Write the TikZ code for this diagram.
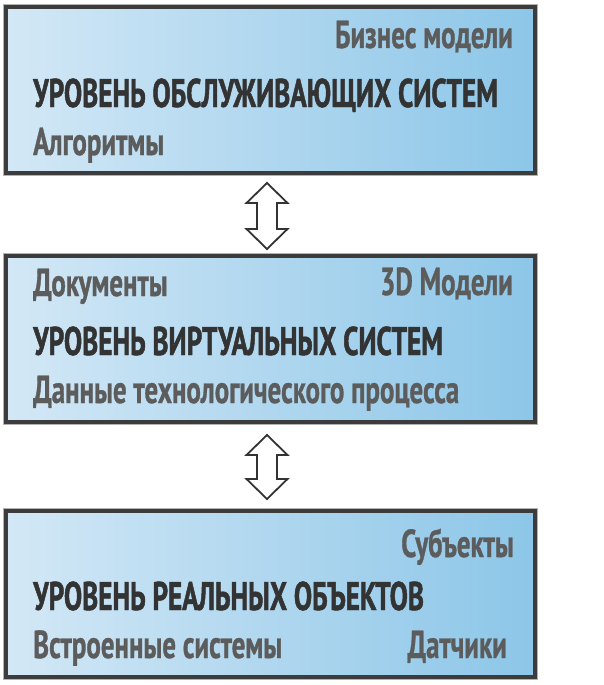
\documentclass[tikz,border=0pt]{standalone}
\usepackage{fontspec}
\setmainfont{PT Sans}
\newfontfamily\titlefont{PT Sans}[FakeStretch=0.68, BoldFeatures={FakeBold=1.2}]
\newfontfamily\subfont{PT Sans}[FakeStretch=0.69, BoldFeatures={FakeBold=0.8}]
\usetikzlibrary{calc}
\definecolor{titlec}{HTML}{333333}
\definecolor{subc}{HTML}{5C5C5C}
\definecolor{borderc}{HTML}{3C3C3C}
\definecolor{fillL}{HTML}{D3E8F6}
\definecolor{fillR}{HTML}{8CC6E8}
\tikzset{
  levelbox/.style={rectangle, inner sep=0pt, minimum width=529pt, minimum height=166pt,
    left color=fillL, right color=fillR, draw=borderc, line width=4pt,
    preaction={draw=black!30, line width=5.6pt}},
  titletext/.style={inner sep=0pt, text=titlec, font=\titlefont\fontsize{40}{40}\selectfont\bfseries},
  subtext/.style={inner sep=0pt, text=subc, font=\subfont\fontsize{39}{39}\selectfont\bfseries},
  blockarrow/.style={draw=titlec, fill=white, line width=1.8pt, line join=miter}
}
\begin{document}
\begin{tikzpicture}[x=1pt,y=-1pt]
\useasboundingbox (0,0) rectangle (604,685);
% boxes
\node[levelbox] (b1) at (270.5,90) {};
\node[levelbox] (b2) at (270.5,339) {};
\node[levelbox] (b3) at (270.5,594) {};
% texts box 1
\node[subtext, anchor=base east] (t1a) at (513,48) {Бизнес модели};
\node[titletext, anchor=base west] (t1b) at (33,107) {УРОВЕНЬ ОБСЛУЖИВАЮЩИХ СИСТЕМ};
\node[subtext, anchor=base west] (t1c) at (33,155) {Алгоритмы};
% texts box 2
\node[subtext, anchor=base west] (t2a) at (33,296) {Документы};
\node[subtext, anchor=base east] (t2b) at (513,295) {3D Модели};
\node[titletext, anchor=base west] (t2c) at (33,355) {УРОВЕНЬ ВИРТУАЛЬНЫХ СИСТЕМ};
\node[subtext, anchor=base west] (t2d) at (33,403) {Данные технологического процесса};
% texts box 3
\node[subtext, anchor=base east] (t3a) at (514,557) {Субъекты};
\node[titletext, anchor=base west] (t3b) at (33,610) {УРОВЕНЬ РЕАЛЬНЫХ ОБЪЕКТОВ};
\node[subtext, anchor=base west] (t3c) at (33,658) {Встроенные системы};
\node[subtext, anchor=base east] (t3d) at (507,658) {Датчики};
% arrows between boxes
\coordinate (a1t) at ($(b1.south)+(-3.5,8)$);
\coordinate (a1b) at ($(b2.north)+(-3.5,-5)$);
\coordinate (a2t) at ($(b2.south)+(-3.5,11)$);
\coordinate (a2b) at ($(b3.north)+(-3.5,-10)$);
\foreach \t/\b in {a1t/a1b, a2t/a2b} {
  \draw[blockarrow] (\t) -- ++(20.5,20) -- ++(-10.5,0) -- ($(\b)+(10,-20)$) -- ++(10.5,0)
    -- (\b) -- ++(-20.5,-20) -- ++(10.5,0) -- ($(\t)+(-10,20)$) -- ++(-10.5,0) -- cycle;
}
\end{tikzpicture}
\end{document}
